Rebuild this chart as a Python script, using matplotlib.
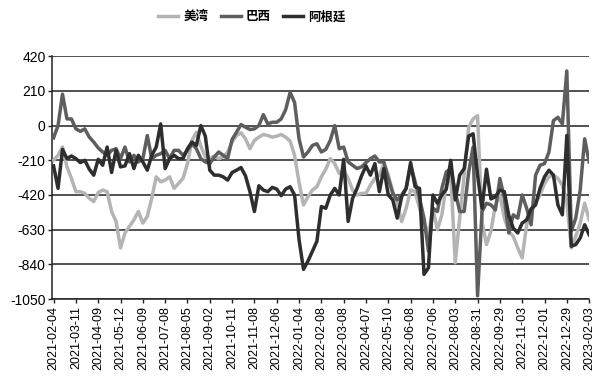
import numpy as np
import matplotlib
matplotlib.use("Agg")
import matplotlib.pyplot as plt

plt.rcParams['font.family'] = ['Liberation Sans', 'Noto Sans CJK SC']

# x-axis labels, one every 20 trading days
tick_dates = ['2021-02-04', '2021-03-11', '2021-04-09', '2021-05-12', '2021-06-09',
              '2021-07-08', '2021-08-05', '2021-09-02', '2021-10-11', '2021-11-08',
              '2021-12-06', '2022-01-04', '2022-02-08', '2022-03-08', '2022-04-07',
              '2022-05-10', '2022-06-08', '2022-07-06', '2022-08-03', '2022-08-31',
              '2022-09-29', '2022-11-03', '2022-12-01', '2022-12-29', '2023-02-03']
tick_every = 20
sample_step = 4  # values below are read every 4 trading days

us_gulf = [-210, -180, -130, -250, -320, -400, -400, -410, -440, -460,
           -405, -390, -400, -520, -580, -740, -650, -610, -570, -520,
           -590, -550, -440, -310, -340, -330, -310, -380, -350, -320,
           -230, -90, -40, -124, -190, -200, -184, -200, -190, -160,
           -100, -60, -44, -80, -140, -90, -70, -54, -60, -70,
           -64, -54, -70, -94, -180, -344, -480, -430, -390, -370,
           -310, -264, -200, -230, -290, -270, -320, -390, -420, -410,
           -410, -360, -320, -300, -230, -300, -400, -470, -580, -500,
           -390, -400, -500, -580, -664, -500, -630, -540, -360, -300,
           -830, -560, -300, -10, 40, 60, -580, -720, -640, -480,
           -420, -560, -640, -670, -740, -800, -600, -520, -470, -420,
           -350, -310, -300, -320, -360, -460, -740, -670, -590, -470,
           -570]

brazil = [-74, 0, 190, 40, 40, -20, -35, -20, -70, -100,
          -135, -160, -180, -150, -140, -200, -130, -220, -180, -220,
          -200, -60, -200, -180, -170, -150, -200, -150, -150, -180,
          -150, -110, -140, -200, -220, -230, -190, -160, -180, -200,
          -84, -40, 6, -10, -24, -20, 0, 66, 10, 20,
          20, 40, 96, 200, 140, -80, -190, -160, -120, -110,
          -160, -144, -90, 0, -140, -130, -220, -240, -260, -250,
          -224, -200, -184, -220, -220, -320, -410, -450, -420, -380,
          -240, -340, -440, -560, -760, -500, -520, -380, -280, -260,
          -400, -520, -520, -284, -130, -1030, -520, -470, -480, -510,
          -320, -440, -650, -540, -560, -420, -500, -600, -300, -240,
          -230, -160, 30, 50, 10, 330, -640, -560, -390, -80,
          -220]

argentina = [-244, -380, -144, -200, -184, -200, -224, -210, -264, -300,
             -204, -240, -130, -284, -150, -250, -244, -170, -260, -180,
             -220, -270, -180, -130, 10, -260, -200, -180, -200, -200,
             -140, -100, -120, 0, -64, -270, -300, -300, -310, -330,
             -284, -270, -254, -304, -400, -520, -364, -390, -400, -374,
             -384, -424, -384, -370, -420, -690, -870, -820, -760, -700,
             -490, -500, -420, -380, -420, -204, -580, -440, -380, -304,
             -244, -300, -230, -400, -260, -420, -450, -560, -430, -380,
             -224, -370, -380, -900, -860, -420, -470, -420, -384, -210,
             -450, -300, -260, -64, -50, -300, -500, -264, -444, -430,
             -390, -400, -544, -620, -650, -590, -570, -504, -480, -380,
             -310, -270, -300, -480, -540, -60, -730, -720, -680, -600,
             -660]

y_ticks = [-1050, -840, -630, -420, -210, 0, 210, 420]

x = np.arange(len(us_gulf)) * sample_step

fig = plt.figure(figsize=(6.03, 3.87), dpi=100)
ax = fig.add_axes([0.087, 0.227, 0.890, 0.628])

ax.plot(x, us_gulf, color='#b4b4b4', lw=2.5, label='美湾', zorder=3)
ax.plot(x, brazil, color='#5e5e5e', lw=2.5, label='巴西', zorder=4)
ax.plot(x, argentina, color='#2e2e2e', lw=2.5, label='阿根廷', zorder=5)

ax.set_ylim(-1050, 420)
ax.set_xlim(-1, (len(tick_dates) - 1) * tick_every)
ax.set_yticks(y_ticks)
ax.set_yticklabels([str(v) for v in y_ticks], fontsize=10)
ax.set_xticks(np.arange(len(tick_dates)) * tick_every)
ax.set_xticklabels(tick_dates, rotation=90, fontsize=9)

for v in y_ticks:
    ax.axhline(v, color='#222222', lw=1.1, zorder=1)

for s in ['top', 'right']:
    ax.spines[s].set_visible(False)
for s in ['left', 'bottom']:
    ax.spines[s].set_color('#222222')
    ax.spines[s].set_linewidth(1.1)
ax.tick_params(axis='both', direction='out', length=3, width=1, color='#222222', pad=2)

fig.legend(loc='center', bbox_to_anchor=(0.418, 0.956), ncol=3, frameon=False,
           prop={'size': 9, 'weight': 'bold'}, handlelength=1.6,
           handletextpad=0.4, columnspacing=1.0)

fig.savefig('out.png', dpi=100)
